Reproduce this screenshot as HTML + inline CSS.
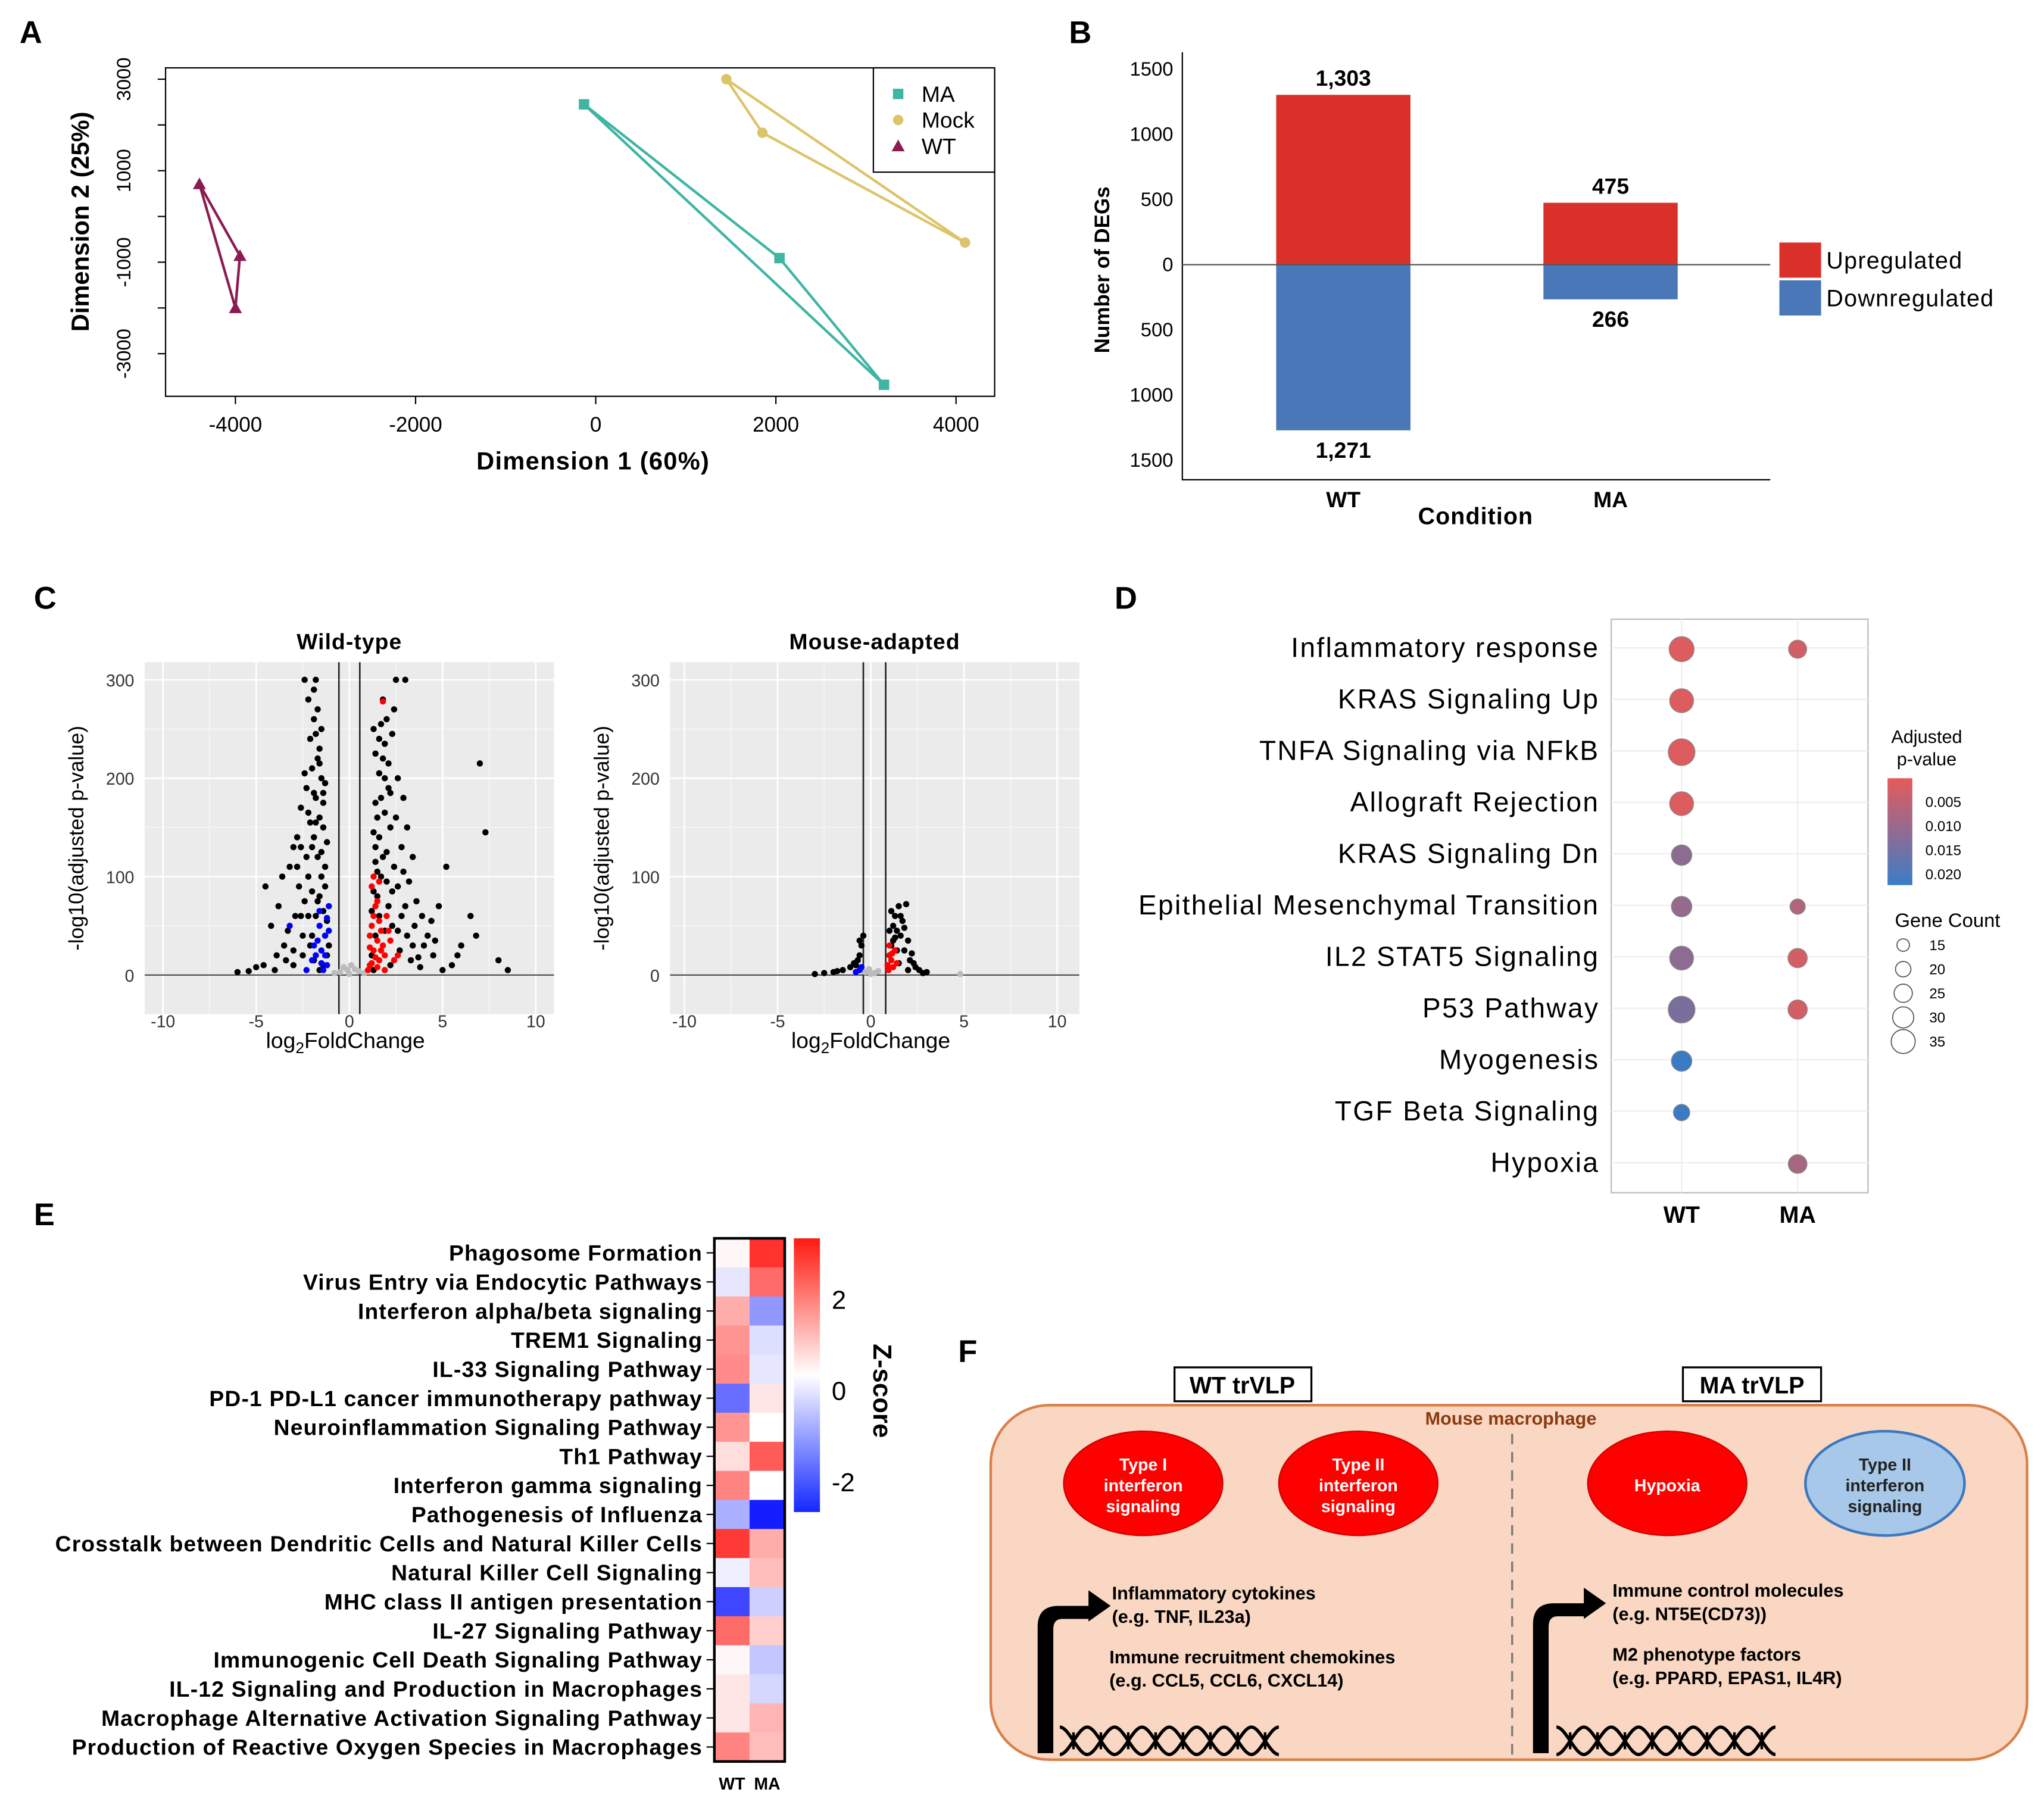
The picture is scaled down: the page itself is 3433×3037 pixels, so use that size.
<!DOCTYPE html>
<html><head><meta charset="utf-8">
<style>
html,body{margin:0;padding:0;background:#fff;}
svg{display:block;font-family:"Liberation Sans",Arial,sans-serif;}
</style></head>
<body>
<svg id="fig" width="3433" height="3037" viewBox="0 0 1568 1387" xmlns="http://www.w3.org/2000/svg">
<g id="pA">
<text x="15" y="33" font-size="24" font-weight="bold">A</text>
<rect x="127" y="52" width="636" height="252" fill="#fff" stroke="#000" stroke-width="1"/>
<text x="455" y="360" font-size="19" font-weight="bold" text-anchor="middle" letter-spacing="0.6">Dimension 1 (60%)</text>
<text transform="translate(68,170) rotate(-90)" font-size="19" font-weight="bold" text-anchor="middle">Dimension 2 (25%)</text>
</g>
<g id="pB">
<text x="820" y="33" font-size="24" font-weight="bold">B</text>
<text transform="translate(851,207) rotate(-90)" font-size="16" font-weight="bold" text-anchor="middle">Number of DEGs</text>
<text x="1132" y="402" font-size="18" font-weight="bold" text-anchor="middle" letter-spacing="0.5">Condition</text>
</g>
<g id="pC">
<text x="26" y="467" font-size="24" font-weight="bold">C</text>
</g>
<g id="pD">
<text x="855" y="467" font-size="24" font-weight="bold">D</text>
</g>
<g id="pE">
<text x="26" y="940" font-size="24" font-weight="bold">E</text>
</g>
<g id="pF">
<text x="735" y="1045" font-size="24" font-weight="bold">F</text>
<rect x="901" y="1049" width="105" height="26" fill="#fff" stroke="#000" stroke-width="1.5"/>
<text x="953" y="1069" font-size="18" font-weight="bold" text-anchor="middle">WT trVLP</text>
<rect x="1291" y="1049" width="106" height="26" fill="#fff" stroke="#000" stroke-width="1.5"/>
<text x="1344" y="1069" font-size="18" font-weight="bold" text-anchor="middle">MA trVLP</text>
<rect x="760" y="1078" width="795" height="272" rx="45" fill="#f9d7c2" stroke="#d9804a" stroke-width="2"/>
<text x="1159" y="1093" font-size="14" font-weight="bold" fill="#8b3a10" text-anchor="middle">Mouse macrophage</text>
<line x1="1160" y1="1100" x2="1160" y2="1350" stroke="#777" stroke-width="1.5" stroke-dasharray="8,6"/>
<ellipse cx="877" cy="1138" rx="61" ry="40" fill="#f00" stroke="#c00"/>
<text x="877" y="1128" font-size="13" font-weight="bold" fill="#fff" text-anchor="middle"><tspan x="877">Type I</tspan><tspan x="877" dy="16">interferon</tspan><tspan x="877" dy="16">signaling</tspan></text>
<ellipse cx="1042" cy="1138" rx="61" ry="40" fill="#f00" stroke="#c00"/>
<text x="1042" y="1128" font-size="13" font-weight="bold" fill="#fff" text-anchor="middle"><tspan x="1042">Type II</tspan><tspan x="1042" dy="16">interferon</tspan><tspan x="1042" dy="16">signaling</tspan></text>
<ellipse cx="1279" cy="1138" rx="61" ry="40" fill="#f00" stroke="#c00"/>
<text x="1279" y="1144" font-size="13" font-weight="bold" fill="#fff" text-anchor="middle">Hypoxia</text>
<ellipse cx="1446" cy="1138" rx="61" ry="40" fill="#a7c8e8" stroke="#3a78c0" stroke-width="2"/>
<text x="1446" y="1128" font-size="13" font-weight="bold" fill="#222" text-anchor="middle"><tspan x="1446">Type II</tspan><tspan x="1446" dy="16">interferon</tspan><tspan x="1446" dy="16">signaling</tspan></text>
<path d="M796,1345 L796,1248 Q796,1232 812,1232 L835,1232 L835,1220 L852,1232 L835,1244 L835,1242 L815,1242 Q808,1242 808,1250 L808,1345 Z" fill="#000"/>
<path d="M1176,1345 L1176,1246 Q1176,1230 1192,1230 L1215,1230 L1215,1218 L1232,1230 L1215,1242 L1215,1240 L1195,1240 Q1188,1240 1188,1248 L1188,1345 Z" fill="#000"/>
<text x="853" y="1227" font-size="14" font-weight="bold"><tspan x="853">Inflammatory cytokines</tspan><tspan x="853" dy="18">(e.g. TNF, IL23a)</tspan></text>
<text x="851" y="1276" font-size="14" font-weight="bold"><tspan x="851">Immune recruitment chemokines</tspan><tspan x="851" dy="18">(e.g. CCL5, CCL6, CXCL14)</tspan></text>
<text x="1237" y="1225" font-size="14" font-weight="bold"><tspan x="1237">Immune control molecules</tspan><tspan x="1237" dy="18">(e.g. NT5E(CD73))</tspan></text>
<text x="1237" y="1274" font-size="14" font-weight="bold"><tspan x="1237">M2 phenotype factors</tspan><tspan x="1237" dy="18">(e.g. PPARD, EPAS1, IL4R)</tspan></text>
<g id="dna1"></g>
<g id="dna2"></g>
</g>
</svg>
<script>
// ---------- Panel A data ----------
const mdsGroups = ["MA","Mock","WT"];
const mdsX_MA = [-130, 2040, 3200];
const mdsY_MA = [2450, -910, -3680];
const mdsX_Mock = [1450, 1850, 4100];
const mdsY_Mock = [3000, 1830, -570];
const mdsX_WT = [-4400, -3950, -4000];
const mdsY_WT = [710, -860, -2000];
const mdsXTicks = [-4000, -2000, 0, 2000, 4000];
const mdsYTicks = [-3000, -2000, -1000, 0, 1000, 2000, 3000];
const mdsYLabels = [-3000, -1000, 1000, 3000];
// ---------- Panel B data ----------
const degConditions = ["WT","MA"];
const degUp = [1303, 475];
const degDown = [1271, 266];
const degUpLabels = ["1,303","475"];
const degDownLabels = ["1,271","266"];
const degTicks = [1500, 1000, 500, 0, 500, 1000, 1500];
const degTickSigns = [1, 1, 1, 0, -1, -1, -1];
// ---------- Panel C data ----------
const volXTicks = [-10, -5, 0, 5, 10];
const volYTicks = [0, 100, 200, 300];
const wtBlack = [[-2.5,20],[-2,40],[-1.8,60],[-1.6,80],[-1.5,100],[-1.7,120],[-1.9,140],[-1.6,160],[-1.8,180],[-1.5,200],[-1.7,220],[-2.1,240],[-1.9,260],[-2.2,280],[-2.4,300],[-1.8,300],[-3,10],[-4,5],[-5,8],[-6,3],[-3.5,30],[-4.2,50],[-3.8,70],[-4.5,90],[-3.2,110],[-2.8,140],[-2.6,170],[-2.3,190],[-3,130],[-2.2,60],[-1.3,40],[-1.2,20],[-1.4,10],[-2.7,90],[-2.9,60],[-3.3,45],[-2,210],[-1.6,230],[-3.6,100],[-1.4,150],[-1.3,110],[-2.4,75],[-2.1,30],[-1.9,15],[-1.6,5],[-2.3,120],[-1.5,250],[-1.9,290],
[-1.2,55],[-1.4,65],[-1.7,75],[-2,85],[-1.3,90],[-1.5,125],[-2,130],[-1.2,135],[-1.8,155],[-2.2,165],[-1.4,175],[-1.9,185],[-1.3,195],[-2.4,205],[-1.6,215],[-1.8,245],[-2.6,60],[-2.5,40],[-3,25],[-3.4,15],[-4.6,10],[-5.4,4],[-2.8,110],[-2.2,100],[-1.1,30],[-2.6,130],[-1.7,270],[-1.4,185],[-2.1,155],[-3.9,20],
[1.2,20],[1.4,40],[1.6,60],[1.5,80],[1.7,100],[1.8,120],[1.6,140],[1.5,160],[1.7,180],[1.9,200],[1.8,220],[1.6,240],[2,260],[1.8,280],[2.5,300],[3,300],[2.2,150],[2.4,110],[2.6,90],[3,70],[3.5,50],[4,30],[4.5,20],[5,5],[5.5,10],[6,30],[6.5,60],[7,215],[7.3,145],[8,15],[8.5,5],[3.2,95],[2.8,130],[3.6,75],[4.2,40],[2.1,70],[2.3,50],[2.7,25],[3.3,15],[3.8,8],[1.3,250],[2.9,180],[1.4,130],[2.1,190],[2.5,160],[3.1,40],[1.9,45],[2.2,10],[4.8,70],[5.2,110],[4.4,55],[1.3,5],
[1.2,65],[1.3,85],[1.5,105],[1.4,115],[2,125],[1.3,145],[1.9,165],[1.4,175],[2.2,185],[1.6,205],[2.1,215],[1.4,225],[1.9,235],[2.3,245],[1.7,255],[2.4,270],[2.8,60],[2.6,45],[3.4,30],[3.9,60],[4.6,35],[2.3,85],[2.9,105],[3.4,120],[2.0,95],[3.7,18],[5.8,20],[6.8,40],[3.1,150],[2.6,200]];
const wtRed = [[1.1,10],[1.3,25],[1.5,35],[1.2,50],[1.6,15],[1.8,30],[1.4,70],[1.7,45],[1.9,20],[1.2,90],[2.2,35],[1.8,278],[1.0,5],[1.5,8],[2.0,60],[1.3,100],[2.4,15],[1.6,55],[1.1,40],[1.3,60],[1.5,75],[1.7,25],[2.1,45],[1.2,12],[1.9,5],[2.6,20],[1.4,18],[1.1,28],[1.6,95]];
const wtBlue = [[-1.2,10],[-1.5,25],[-1.3,40],[-1.8,20],[-1.6,50],[-1.1,70],[-2,15],[-1.4,5],[-3.2,50],[-1.7,35],[-1.2,58],[-2.3,5],[-1.3,20],[-1.5,12],[-1.9,30],[-1.1,45],[-1.6,65]];
const wtGray = [[-0.5,3],[0,1],[0.5,4],[-0.3,8],[0.3,6],[-0.8,2],[0.8,2],[0.1,10],[-0.1,5]];
const maBlack = [[-1.5,5],[-2,3],[-2.5,2],[-3,1],[-0.6,20],[-0.5,30],[-0.4,40],[-0.7,15],[-0.8,10],[1.1,30],[1.2,50],[1.5,70],[1.9,72],[1.3,60],[1.6,40],[1.8,25],[2.1,15],[2.4,8],[2.6,5],[3,3],[1,20],[1.4,45],[1.7,55],[2,35],[1.1,65],[2.2,22],[1.5,12],[-1.1,8],[2.8,2],[1.3,38],[1.2,35],[1.6,60],[1.8,48],[2.3,12],[1.4,25],[-0.9,12],[-0.6,35],[-1.8,4],[2.0,5],[1.0,45]];
const maRed = [[0.9,10],[1,20],[1.1,15],[1.2,8],[1.3,25],[1.0,30],[1.4,12],[0.95,5],[1.15,22]];
const maBlue = [[-0.6,5],[-0.8,3],[-0.5,8]];
const maGray = [[-0.3,3],[0,1],[0.4,4],[-0.1,6],[0.2,2],[4.8,1]];
// ---------- Panel D data ----------
const pathways = ["Inflammatory response","KRAS Signaling Up","TNFA Signaling via NFkB","Allograft Rejection","KRAS Signaling Dn","Epithelial Mesenchymal Transition","IL2 STAT5 Signaling","P53 Pathway","Myogenesis","TGF Beta Signaling","Hypoxia"];
const wtCount = [30, 28, 33, 28, 22, 22, 28, 33, 22, 15, null];
const wtPadj = [0.003, 0.003, 0.003, 0.003, 0.012, 0.011, 0.012, 0.014, 0.021, 0.021, null];
const maCount = [18, null, null, null, null, 13, 20, 20, null, null, 19];
const maPadj = [0.004, null, null, null, null, 0.008, 0.004, 0.004, null, null, 0.009];
const padjTicks = [0.005, 0.010, 0.015, 0.020];
const countTicks = [15, 20, 25, 30, 35];
// ---------- Panel E data ----------
const hmRows = ["Phagosome Formation","Virus Entry via Endocytic Pathways","Interferon alpha/beta signaling","TREM1 Signaling","IL-33 Signaling Pathway","PD-1 PD-L1 cancer immunotherapy pathway","Neuroinflammation Signaling Pathway","Th1 Pathway","Interferon gamma signaling","Pathogenesis of Influenza","Crosstalk between Dendritic Cells and Natural Killer Cells","Natural Killer Cell Signaling","MHC class II antigen presentation","IL-27 Signaling Pathway","Immunogenic Cell Death Signaling Pathway","IL-12 Signaling and Production in Macrophages","Macrophage Alternative Activation Signaling Pathway","Production of Reactive Oxygen Species in Macrophages"];
const hmCols = ["WT","MA"];
const zWT = [0.1,-0.3,1.0,1.3,1.4,-1.8,1.3,0.4,1.5,-1.0,2.4,-0.2,-2.3,1.8,0.1,0.3,0.3,1.5];
const zMA = [2.5,1.8,-1.3,-0.4,-0.3,0.3,0.0,2.0,0.0,-2.8,1.0,0.8,-0.6,0.6,-0.7,-0.5,0.9,0.8];
const zTicks = [2, 0, -2];

const NS="http://www.w3.org/2000/svg";
function mk(parent, tag, attrs, text){const e=document.createElementNS(NS,tag);for(const k in attrs)e.setAttribute(k,attrs[k]);if(text!==undefined)e.textContent=text;parent.appendChild(e);return e;}

// ===== Panel A =====
(function(){
 const g=document.getElementById('pA');
 const xs=v=>457+v*0.0691, ys=v=>166-v*0.0351;
 mdsXTicks.forEach(t=>{
  const l=mk(g,'line',{x1:xs(t),x2:xs(t),y1:304,y2:310,stroke:'#000'});
  
  
  const tx=mk(g,'text',{x:xs(t),y:331,'font-size':16,'text-anchor':'middle'},String(t));
  
  
 });
 mdsYTicks.forEach(t=>{
  const l=mk(g,'line',{x1:121,x2:127,y1:ys(t),y2:ys(t),stroke:'#000'});
  
  
 });
 mdsYLabels.forEach(t=>{
  const tx=mk(g,'text',{transform:`translate(100,${ys(t)}) rotate(-90)`,'font-size':15,'text-anchor':'middle'},String(t));
  
  
 });
 const series=[[mdsX_MA,mdsY_MA,'#3fb5a3','sq'],[mdsX_Mock,mdsY_Mock,'#dcc46a','ci'],[mdsX_WT,mdsY_WT,'#8b1c52','tr']];
 series.forEach((s,si)=>{
  const pts=s[0].map((x,i)=>[xs(x),ys(s[1][i])]);
  const poly=mk(g,'polygon',{points:pts.map(p=>p.join(',')).join(' '),fill:'none',stroke:s[2],'stroke-width':2});
  
  
  pts.forEach(p=>{
   let m;
   if(s[3]==='sq') m=mk(g,'rect',{x:p[0]-4,y:p[1]-4,width:8,height:8,fill:s[2]});
   else if(s[3]==='ci') m=mk(g,'circle',{cx:p[0],cy:p[1],r:4,fill:s[2]});
   else m=mk(g,'polygon',{points:`${p[0]},${p[1]-5} ${p[0]-5},${p[1]+4} ${p[0]+5},${p[1]+4}`,fill:s[2]});
   
   
  });
 });
 const lg=mk(g,'rect',{x:670,y:52,width:93,height:80,fill:'#fff',stroke:'#000'});
 
 
 series.forEach((s,i)=>{
  const y=72+i*20; let m;
  if(s[3]==='sq') m=mk(g,'rect',{x:685,y:y-4,width:8,height:8,fill:s[2]});
  else if(s[3]==='ci') m=mk(g,'circle',{cx:689,cy:y,r:4,fill:s[2]});
  else m=mk(g,'polygon',{points:`689,${y-5} 684,${y+4} 694,${y+4}`,fill:s[2]});
  
  
  const t=mk(g,'text',{x:707,y:y+6,'font-size':17},mdsGroups[i]);
  
  
 });
})();

// ===== Panel B =====
(function(){
 const g=document.getElementById('pB');
 const y0=203, k=0.1, ys=v=>y0-v*k;
 const bx=[979,1184], bw=103;
 const ax=mk(g,'polyline',{points:'907,40 907,368 1358,368',fill:'none',stroke:'#000','stroke-width':1});
 
 
 degTicks.forEach((t,i)=>{
  const y=ys(t*degTickSigns[i]);
  const tx=mk(g,'text',{x:900,y:y+5,'font-size':15,'text-anchor':'end'},String(t));
  
  
 });
 degConditions.forEach((c,i)=>{
  const u=mk(g,'rect',{x:bx[i],y:ys(degUp[i]),width:bw,height:degUp[i]*k,fill:'#d9312a'});
  
  
  const d=mk(g,'rect',{x:bx[i],y:y0,width:bw,height:degDown[i]*k,fill:'#4a77b8'});
  
  
  const t1=mk(g,'text',{x:bx[i]+bw/2,y:ys(degUp[i])-7,'font-size':17,'font-weight':'bold','text-anchor':'middle'},degUpLabels[i]);
  
  
  const t2=mk(g,'text',{x:bx[i]+bw/2,y:y0+degDown[i]*k+21,'font-size':17,'font-weight':'bold','text-anchor':'middle'},degDownLabels[i]);
  
  
  const t3=mk(g,'text',{x:bx[i]+bw/2,y:389,'font-size':17,'font-weight':'bold','text-anchor':'middle'},c);
  
  
 });
 const zl=mk(g,'line',{x1:907,x2:1358,y1:y0,y2:y0,stroke:'#555','stroke-width':1});
 
 
 [['Upregulated','#d9312a',186],['Downregulated','#4a77b8',215]].forEach(l=>{
  const r=mk(g,'rect',{x:1365,y:l[2],width:32,height:27,fill:l[1]});
  
  
  const t=mk(g,'text',{x:1401,y:l[2]+20,'font-size':18,'letter-spacing':0.6},l[0]);
  
  
 });
})();

// ===== Panel C =====
function volcano(g,x0,x1,title,zero,lines,sets){
 const xs=v=>zero+v*14.3, ys=v=>748-v*0.755;
 const bg=mk(g,'rect',{x:x0,y:508,width:x1-x0,height:270,fill:'#ebebeb'});
 
 
 [-7.5,-2.5,2.5,7.5].forEach(v=>{mk(g,'line',{x1:xs(v),x2:xs(v),y1:508,y2:778,stroke:'#f6f6f6','stroke-width':0.8});});
 [50,150,250].forEach(v=>{mk(g,'line',{x1:x0,x2:x1,y1:ys(v),y2:ys(v),stroke:'#f6f6f6','stroke-width':0.8});});
 volXTicks.forEach(v=>{
  mk(g,'line',{x1:xs(v),x2:xs(v),y1:508,y2:778,stroke:'#fff','stroke-width':1.2});
  const t=mk(g,'text',{x:xs(v),y:788,'font-size':13,'text-anchor':'middle',fill:'#333'},String(v));
  
  
 });
 volYTicks.forEach(v=>{
  mk(g,'line',{x1:x0,x2:x1,y1:ys(v),y2:ys(v),stroke:'#fff','stroke-width':1.2});
  const t=mk(g,'text',{x:x0-8,y:ys(v)+5,'font-size':13,'text-anchor':'end',fill:'#333'},String(v));
  
  
 });
 const hz=mk(g,'line',{x1:x0,x2:x1,y1:ys(0),y2:ys(0),stroke:'#444','stroke-width':1});
 
 
 lines.forEach(v=>{
  const l=mk(g,'line',{x1:xs(v),x2:xs(v),y1:508,y2:778,stroke:'#222','stroke-width':1.2});
  
  
 });
 sets.forEach(s=>{s[0].forEach(p=>{
  const c=mk(g,'circle',{cx:xs(p[0]),cy:ys(p[1]),r:2.4,fill:s[1]});
  
  
 });});
 const t=mk(g,'text',{x:(x0+x1)/2,y:498,'font-size':17,'font-weight':'bold','text-anchor':'middle','letter-spacing':0.5},title);
 
 
 const xt=mk(g,'text',{x:(x0+x1)/2-3,y:804,'font-size':17,'text-anchor':'middle'});
 xt.innerHTML='log<tspan font-size="12" dy="4">2</tspan><tspan dy="-4">FoldChange</tspan>';
 
 
 const yt=mk(g,'text',{transform:`translate(${x0-47},643) rotate(-90)`,'font-size':16,'text-anchor':'middle'},'-log10(adjusted p-value)');
 
 
}
(function(){
 const g=document.getElementById('pC');
 const g1=mk(g,'g',{});
 
 
 volcano(g1,111,425,'Wild-type',268,[-0.56,0.56],[[wtGray,'#bbb','gray'],[wtBlack,'#000','black'],[wtRed,'#f00','red'],[wtBlue,'#00f','blue']]);
 const g2=mk(g,'g',{});
 
 
 volcano(g2,514,828,'Mouse-adapted',668,[-0.4,0.8],[[maGray,'#bbb','gray'],[maBlack,'#000','black'],[maRed,'#f00','red'],[maBlue,'#00f','blue']]);
})();

// ===== Panel D =====
(function(){
 const g=document.getElementById('pD');
 const cx=[1290,1379], ry=i=>497+i*39.5;
 const rs=c=>3+c*0.22;
 function col(p){const t=Math.max(0,Math.min(1,(p-0.002)/0.02));const a=[230,90,90],b=[50,125,200];return `rgb(${a.map((v,i)=>Math.round(v+(b[i]-v)*t)).join(',')})`;}
 const bx=mk(g,'rect',{x:1236,y:475,width:197,height:440,fill:'#fff',stroke:'#bbb'});
 
 
 cx.forEach(x=>mk(g,'line',{x1:x,x2:x,y1:475,y2:915,stroke:'#eee'}));
 pathways.forEach((p,i)=>{
  mk(g,'line',{x1:1236,x2:1433,y1:ry(i),y2:ry(i),stroke:'#eee'});
  const t=mk(g,'text',{x:1227,y:ry(i)+7,'font-size':21,'text-anchor':'end','letter-spacing':1.1},p);
  
  
  [[wtCount,wtPadj,0,'wt'],[maCount,maPadj,1,'ma']].forEach(s=>{
   if(s[0][i]==null) return;
   const c=mk(g,'circle',{cx:cx[s[2]],cy:ry(i)+1,r:rs(s[0][i]),fill:col(s[1][i]),stroke:'#888','stroke-width':0.6});
   
   
  });
 });
 ['WT','MA'].forEach((c,i)=>{
  const t=mk(g,'text',{x:cx[i],y:938,'font-size':18,'font-weight':'bold','text-anchor':'middle'},c);
  
  
 });
 const lt=mk(g,'text',{x:1478,y:570,'font-size':14,'text-anchor':'middle'},'Adjusted');
 
 
 const lt2=mk(g,'text',{x:1478,y:587,'font-size':14,'text-anchor':'middle'},'p-value');
 
 
 const defs=mk(g,'defs',{});
 const lgr=mk(defs,'linearGradient',{id:'padjg',x1:0,y1:0,x2:0,y2:1});
 mk(lgr,'stop',{offset:0,'stop-color':'#e65a5a'});mk(lgr,'stop',{offset:1,'stop-color':'#3a7dc8'});
 const cb=mk(g,'rect',{x:1448,y:597,width:19,height:82,fill:'url(#padjg)'});
 
 
 padjTicks.forEach((v,i)=>{
  const t=mk(g,'text',{x:1477,y:619+i*18.5,'font-size':11},v.toFixed(3));
  
  
 });
 const ct=mk(g,'text',{x:1494,y:711,'font-size':15,'text-anchor':'middle'},'Gene Count');
 
 
 countTicks.forEach((v,i)=>{
  const y=725+i*18.5;
  const c=mk(g,'circle',{cx:1460,cy:y,r:rs(v)-1.5,fill:'#fff',stroke:'#555','stroke-width':0.8});
  
  
  const t=mk(g,'text',{x:1480,y:y+4,'font-size':11},String(v));
  
  
 });
})();

// ===== Panel E =====
(function(){
 const g=document.getElementById('pE');
 const x0=548, cw=27, y0=950, rh=22.3;
 function col(z){const t=Math.max(-1,Math.min(1,z/2.8));
  if(t>=0){return `rgb(255,${Math.round(255-t*230)},${Math.round(255-t*235)})`;}
  const s=-t;return `rgb(${Math.round(255-s*235)},${Math.round(255-s*225)},255)`;}
 hmRows.forEach((r,i)=>{
  const y=y0+i*rh;
  [zWT,zMA].forEach((arr,j)=>{
   const c=mk(g,'rect',{x:x0+j*cw,y:y,width:cw,height:rh+0.3,fill:col(arr[i])});
   
   
  });
  mk(g,'line',{x1:x0-6,x2:x0,y1:y+rh/2,y2:y+rh/2,stroke:'#000'});
  const t=mk(g,'text',{x:x0-9,y:y+rh/2+6,'font-size':17,'font-weight':'bold','text-anchor':'end','letter-spacing':0.55},r);
  
  
 });
 const b=mk(g,'rect',{x:x0,y:y0,width:cw*2,height:rh*18,fill:'none',stroke:'#000','stroke-width':2});
 
 
 hmCols.forEach((c,j)=>{
  const t=mk(g,'text',{x:x0+j*cw+cw/2,y:1373,'font-size':13,'font-weight':'bold','text-anchor':'middle'},c);
  
  
 });
 const defs=mk(g,'defs',{});
 const lg=mk(defs,'linearGradient',{id:'zg',x1:0,y1:0,x2:0,y2:1});
 mk(lg,'stop',{offset:0,'stop-color':'#ff1a10'});mk(lg,'stop',{offset:0.5,'stop-color':'#ffffff'});mk(lg,'stop',{offset:1,'stop-color':'#1428ff'});
 const cb=mk(g,'rect',{x:609,y:950,width:20,height:210,fill:'url(#zg)'});
 
 
 zTicks.forEach(v=>{
  const y=1067-v*35;
  const t=mk(g,'text',{x:638,y:y+7,'font-size':20},v===-2?'-2':String(v));
  
  
 });
 const zt=mk(g,'text',{transform:'translate(670,1067) rotate(90)','font-size':20,'font-weight':'bold','text-anchor':'middle'},'Z-score');
 
 
})();

// ===== DNA helices =====
function dna(id,x0){const g=document.getElementById(id);let d='';
 for(let i=0;i<8;i++){const a=x0+i*21;d+=`M${a},1325 C${a+7},1325 ${a+14},1346 ${a+21},1346 M${a},1346 C${a+7},1346 ${a+14},1325 ${a+21},1325 `;
  mk(g,'line',{x1:a+10.5,x2:a+10.5,y1:1329,y2:1342,stroke:'#000','stroke-width':2});}
 mk(g,'path',{d:d,fill:'none',stroke:'#000','stroke-width':2.5});}
dna('dna1',813);dna('dna2',1194);
</script>
</body></html>
